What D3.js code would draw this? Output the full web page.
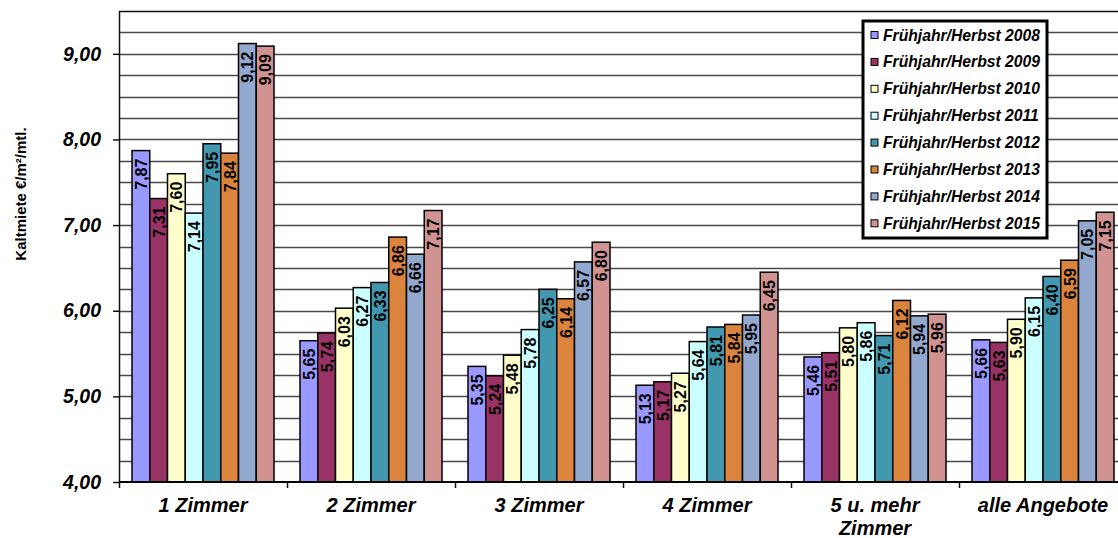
<!DOCTYPE html>
<html>
<head>
<meta charset="utf-8">
<script src="https://cdn.jsdelivr.net/npm/d3@7"></script>
<style>
  body { margin: 0; background: #fff; }
  svg { display: block; font-family: 'Liberation Sans', Arial, sans-serif; }
</style>
</head>
<body>
<div id="graf"></div>
<script>
// !DATOS
const kategorien = ['1 Zimmer', '2 Zimmer', '3 Zimmer', '4 Zimmer', '5 u. mehr|Zimmer', 'alle Angebote']
const serien = [
  'Frühjahr/Herbst 2008',
  'Frühjahr/Herbst 2009',
  'Frühjahr/Herbst 2010',
  'Frühjahr/Herbst 2011',
  'Frühjahr/Herbst 2012',
  'Frühjahr/Herbst 2013',
  'Frühjahr/Herbst 2014',
  'Frühjahr/Herbst 2015',
]
const werte2008 = [7.87, 5.65, 5.35, 5.13, 5.46, 5.66]
const werte2009 = [7.31, 5.74, 5.24, 5.17, 5.51, 5.63]
const werte2010 = [7.60, 6.03, 5.48, 5.27, 5.80, 5.90]
const werte2011 = [7.14, 6.27, 5.78, 5.64, 5.86, 6.15]
const werte2012 = [7.95, 6.33, 6.25, 5.81, 5.71, 6.40]
const werte2013 = [7.84, 6.86, 6.14, 5.84, 6.12, 6.59]
const werte2014 = [9.12, 6.66, 6.57, 5.95, 5.94, 7.05]
const werte2015 = [9.09, 7.17, 6.80, 6.45, 5.96, 7.15]
const yTicks = [4, 5, 6, 7, 8, 9]
const farben = ['#9999ff', '#993366', '#ffffcc', '#ccffff', '#4198af', '#db843d', '#93a9cf', '#d19392']

const alleWerte = [werte2008, werte2009, werte2010, werte2011, werte2012, werte2013, werte2014, werte2015]
const fmt = (v) => d3.format('.2f')(v).replace('.', ',')

const anchoTotal = 1118
const altoTotal = 538
const margin = { top: 11, left: 119, bottom: 56 }
const ancho = 168 * kategorien.length
const alto = altoTotal - margin.top - margin.bottom

const svg = d3.select('#graf')
  .append('svg')
  .attr('width', anchoTotal)
  .attr('height', altoTotal)

const g = svg.append('g')
  .attr('transform', `translate(${margin.left}, ${margin.top})`)

// !ESCALADORES
const x0 = d3.scaleBand().domain(kategorien).range([0, ancho]).paddingInner(0).paddingOuter(0)
const x1 = d3.scaleBand().domain(serien).range([13, x0.bandwidth() - 13])
const y = d3.scaleLinear().domain([4, 9.5]).range([alto, 0])

// gitterlinien alle 0,25
g.append('g')
  .selectAll('line')
  .data(d3.range(4.25, 9.5, 0.25))
  .join('line')
  .attr('x1', 0)
  .attr('x2', ancho)
  .attr('y1', (d) => Math.round(y(d)) + 0.5)
  .attr('y2', (d) => Math.round(y(d)) + 0.5)
  .attr('stroke', '#4a4a4a')
  .attr('stroke-width', 1.3)

// rahmen oben
g.append('line')
  .attr('x1', 0).attr('x2', ancho)
  .attr('y1', 0.5).attr('y2', 0.5)
  .attr('stroke', '#111').attr('stroke-width', 1.5)

// !BALKEN
const gruppen = g.append('g')
  .selectAll('g')
  .data(kategorien)
  .join('g')
  .attr('transform', (d) => `translate(${x0(d)}, 0)`)

gruppen.selectAll('rect')
  .data((d, i) => serien.map((s, j) => ({ s, v: alleWerte[j][i], c: farben[j] })))
  .join('rect')
  .attr('x', (d) => x1(d.s))
  .attr('y', (d) => y(d.v))
  .attr('width', x1.bandwidth())
  .attr('height', (d) => alto - y(d.v))
  .attr('fill', (d) => d.c)
  .attr('stroke', '#000')
  .attr('stroke-width', 1.5)

gruppen.selectAll('text')
  .data((d, i) => serien.map((s, j) => ({ s, v: alleWerte[j][i] })))
  .join('text')
  .attr('transform', (d) => `translate(${x1(d.s) + x1.bandwidth() / 2 + 6}, ${y(d.v) + 8}) rotate(-90)`)
  .attr('text-anchor', 'end')
  .attr('font-size', 16)
  .attr('font-weight', 'bold')
  .attr('fill', '#000')
  .text((d) => fmt(d.v))

// !EJES
const ejeY = g.append('g')
  .call(d3.axisLeft(y).tickValues(yTicks).tickSize(6).tickPadding(12).tickFormat(fmt))
ejeY.select('.domain').attr('d', `M0.5,0V${alto + 6}`).attr('stroke', '#111').attr('stroke-width', 1.5)
ejeY.selectAll('.tick line').attr('stroke', '#111').attr('stroke-width', 1.5)
ejeY.selectAll('.tick text')
  .attr('font-size', 19.5)
  .attr('font-weight', 'bold')
  .attr('font-style', 'italic')
  .attr('fill', '#000')
  .attr('font-family', "'Liberation Sans', Arial, sans-serif")

// x-achse
g.append('line')
  .attr('x1', 0).attr('x2', ancho)
  .attr('y1', alto).attr('y2', alto)
  .attr('stroke', '#000').attr('stroke-width', 2)

g.append('g')
  .selectAll('line')
  .data(d3.range(1, kategorien.length + 1))
  .join('line')
  .attr('x1', (d) => d * x0.bandwidth() + 0.5)
  .attr('x2', (d) => d * x0.bandwidth() + 0.5)
  .attr('y1', alto)
  .attr('y2', alto + 6)
  .attr('stroke', '#111')
  .attr('stroke-width', 1.5)

const xLabels = g.append('g')
  .selectAll('text')
  .data(kategorien)
  .join('text')
  .attr('x', (d) => x0(d) + x0.bandwidth() / 2)
  .attr('y', alto + 30)
  .attr('text-anchor', 'middle')
  .attr('font-size', 20)
  .attr('font-weight', 'bold')
  .attr('font-style', 'italic')

xLabels.selectAll('tspan')
  .data((d) => d.split('|'))
  .join('tspan')
  .attr('x', function () { return d3.select(this.parentNode).attr('x') })
  .attr('dy', (d, i) => (i === 0 ? 0 : 23))
  .text((d) => d)

// y-titel
svg.append('text')
  .attr('transform', 'translate(26, 194) rotate(-90)')
  .attr('text-anchor', 'middle')
  .attr('font-size', 15)
  .attr('font-weight', 'bold')
  .text('Kaltmiete €/m²/mtl.')

// !LEGENDE
const leg = svg.append('g')
leg.append('rect')
  .attr('x', 863)
  .attr('y', 21)
  .attr('width', 184)
  .attr('height', 217)
  .attr('fill', '#fff')
  .attr('stroke', '#000')
  .attr('stroke-width', 3)

const items = leg.selectAll('g.item')
  .data(serien)
  .join('g')
  .attr('class', 'item')
  .attr('transform', (d, i) => `translate(871, ${35 + i * 26.9})`)

items.append('rect')
  .attr('x', 0)
  .attr('y', -3.5)
  .attr('width', 7)
  .attr('height', 7)
  .attr('fill', (d, i) => farben[i])
  .attr('stroke', '#000')
  .attr('stroke-width', 1)

items.append('text')
  .attr('x', 12)
  .attr('y', 5.5)
  .attr('font-size', 15.7)
  .attr('font-weight', 'bold')
  .attr('font-style', 'italic')
  .text((d) => d)
</script>
</body>
</html>
